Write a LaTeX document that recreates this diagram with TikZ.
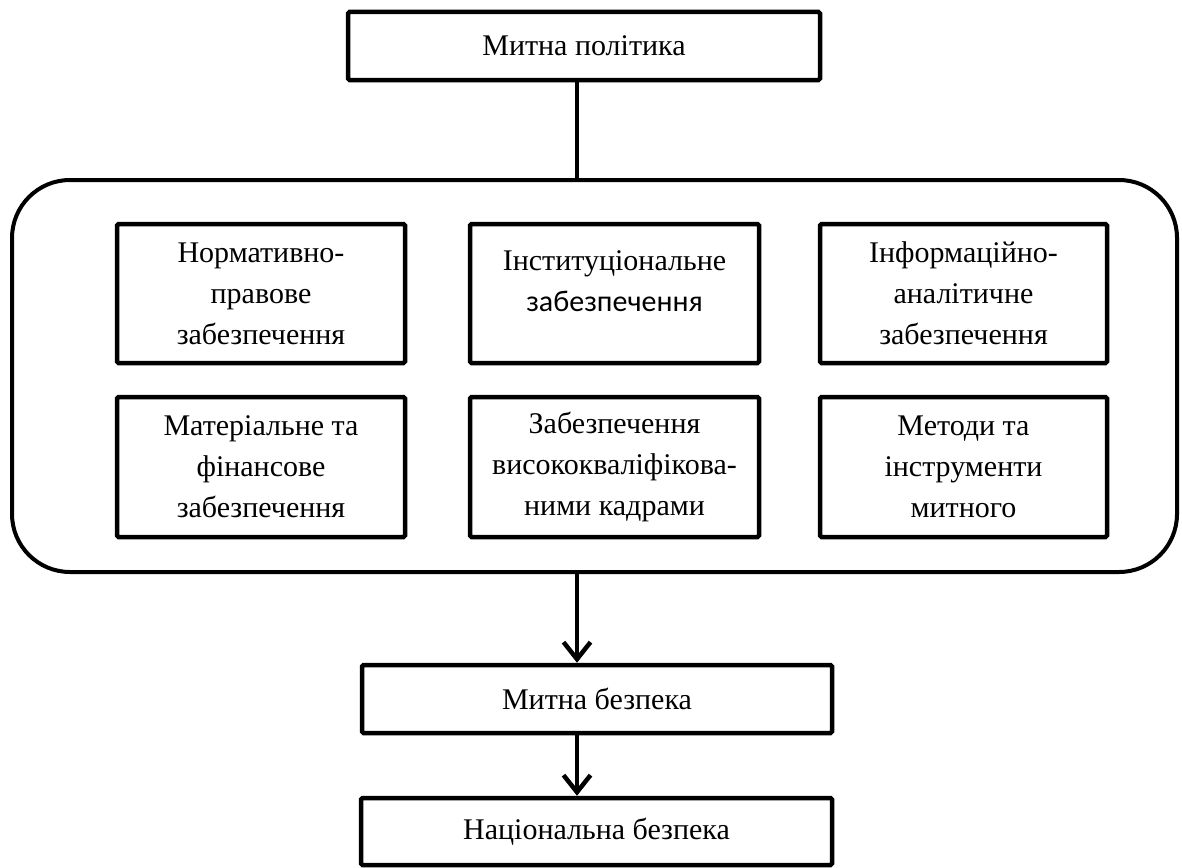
\documentclass[tikz,border=0pt]{standalone}
\usepackage{fontspec}
\setmainfont{Liberation Serif}
\newfontfamily\calibri{Carlito}
\usetikzlibrary{arrows.meta}
\begin{document}
\begin{tikzpicture}[x=1pt,y=-1pt,
  box/.style={draw, line width=4.5pt, rounded corners=1.5pt, inner sep=0pt, align=center, font=\fontsize{30}{41}\selectfont},
  txt/.style={inner sep=0pt, align=center, font=\fontsize{30}{41}\selectfont},
  frame/.style={draw, line width=4pt, rounded corners=58pt, inner sep=0pt},
  conn/.style={line width=4pt},
  arr/.style={line width=4pt, -{Straight Barb[length=17pt,width=27pt,line width=4.5pt]}}]
\useasboundingbox (0,0) rectangle (1182,867);
% top
\node[box, minimum width=472pt, minimum height=68pt] (top) at (584,46) {Митна політика};
% frame
\node[frame, minimum width=1165pt, minimum height=392pt] (big) at (594.5,376) {};
% inner boxes
\node[box, minimum width=288pt, minimum height=139pt] (b1) at (261,293.5) {Нормативно-\\правове\\забезпечення};
\node[box, minimum width=289pt, minimum height=139pt] (b2) at (614.5,293.5) {};
\node[txt] (b2t) at (614.5,301.5) {Інституціональне\\{\calibri забезпечення}\\\mbox{}};
\node[box, minimum width=287pt, minimum height=139pt] (b3) at (963.5,293.5) {Інформаційно-\\аналітичне\\забезпечення};
\node[box, minimum width=288pt, minimum height=140pt] (b4) at (261,467) {Матеріальне та\\фінансове\\забезпечення};
\node[box, minimum width=289pt, minimum height=140pt] (b5) at (614.5,467) {Забезпечення\\висококваліфікова-\\ними кадрами};
\node[box, minimum width=287pt, minimum height=140pt] (b6) at (963.5,467) {Методи та\\інструменти\\митного};
% lower boxes
\node[box, minimum width=470pt, minimum height=68pt] (mid) at (597,699) {Митна безпека};
\node[box, minimum width=471pt, minimum height=67pt] (bot) at (596.5,831.5) {Національна безпека};
% connectors
\coordinate (cx) at (577,0);
\draw[conn] (cx |- top.south) -- (cx |- big.north);
\draw[arr] (cx |- big.south) -- (cx |- mid.north);
\draw[arr] (cx |- mid.south) -- (cx |- bot.north);
\end{tikzpicture}
\end{document}
